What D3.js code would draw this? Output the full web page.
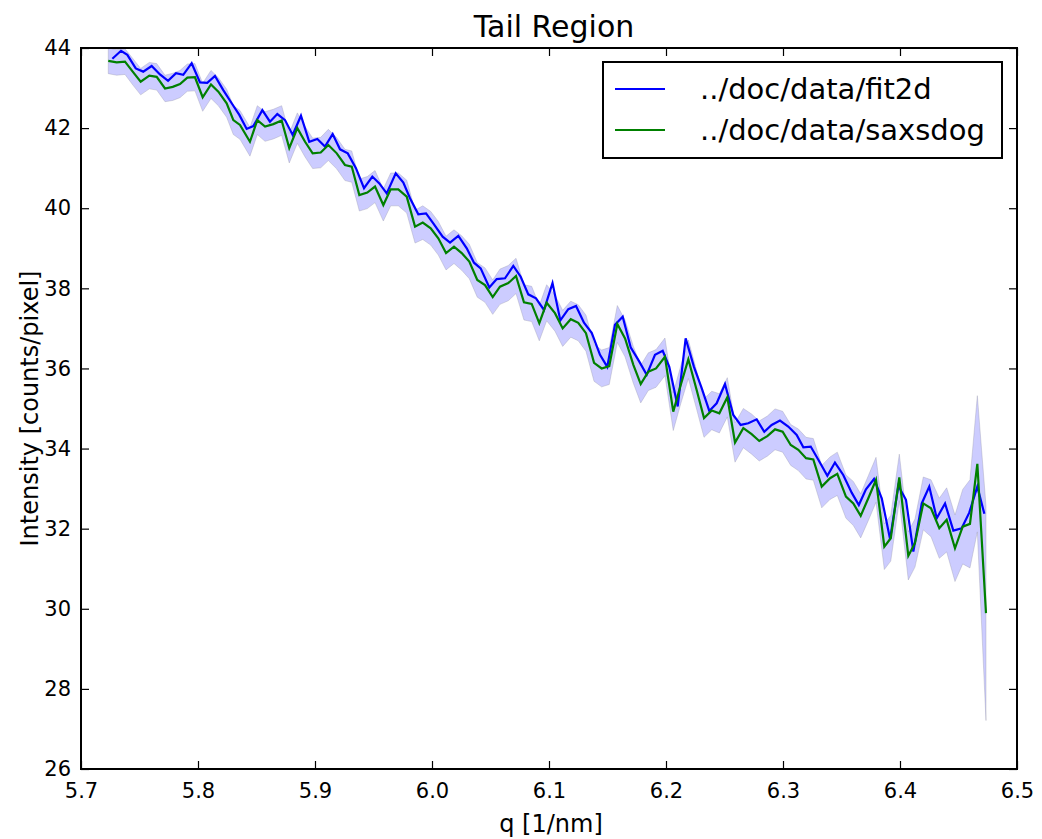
<!DOCTYPE html>
<html><head><meta charset="utf-8">
<script src="https://cdn.jsdelivr.net/npm/d3@7"></script>
<style>body{margin:0;background:#fff}svg{display:block}text{font-family:"DejaVu Sans",sans-serif}</style>
</head><body>
<svg id="c" width="1042" height="839"></svg>
<script>
const title = "Tail Region";
const xLabel = "q [1/nm]";
const yLabel = "Intensity [counts/pixel]";
const seriesNames = ["../doc/data/fit2d", "../doc/data/saxsdog"];
const xTicks = [5.7, 5.8, 5.9, 6.0, 6.1, 6.2, 6.3, 6.4, 6.5];
const yTicks = [26, 28, 30, 32, 34, 36, 38, 40, 42, 44];

const qFit2d = [5.7268,5.7342,5.7396,5.7468,5.7532,5.7604,5.7675,5.7744,5.7812,5.7874,5.7946,5.8017,5.8079,5.8145,5.8216,5.8288,5.8353,5.8416,5.8473,5.8550,5.8615,5.8678,5.8744,5.8809,5.8880,5.8951,5.9020,5.9085,5.9151,5.9214,5.9280,5.9350,5.9419,5.9490,5.9550,5.9613,5.9690,5.9755,5.9812,5.9883,5.9949,6.0011,6.0091,6.0154,6.0225,6.0297,6.0359,6.0416,6.0490,6.0553,6.0624,6.0695,6.0758,6.0823,6.0889,6.0957,6.1030,6.1097,6.1165,6.1231,6.1299,6.1365,6.1436,6.1498,6.1564,6.1630,6.1698,6.1772,6.1835,6.1906,6.1972,6.2028,6.2100,6.2168,6.2239,6.2305,6.2370,6.2433,6.2504,6.2575,6.2638,6.2703,6.2775,6.2840,6.2903,6.2974,6.3045,6.3117,6.3174,6.3237,6.3302,6.3379,6.3444,6.3515,6.3587,6.3648,6.3709,6.3778,6.3844,6.3915,6.3986,6.4051,6.4114,6.4186,6.4250,6.4314,6.4385,6.4456,6.4527,6.4592,6.4661,6.4721];
const iFit2d = [43.73,43.93,43.83,43.49,43.41,43.55,43.34,43.18,43.37,43.33,43.62,43.14,43.13,43.30,42.95,42.62,42.33,41.98,42.05,42.45,42.16,42.35,42.20,41.83,42.31,41.66,41.73,41.54,41.85,41.47,41.37,41.00,40.50,40.79,40.62,40.37,40.87,40.64,40.25,39.85,39.87,39.62,39.29,39.14,39.31,39.00,38.64,38.50,38.02,38.23,38.25,38.56,38.29,37.85,37.75,37.46,38.13,37.20,37.48,37.56,37.14,36.89,36.34,36.04,37.09,37.29,36.53,36.17,35.84,36.34,36.44,36.04,35.05,36.75,36.04,35.51,34.94,35.13,35.61,34.84,34.59,34.63,34.73,34.42,34.59,34.70,34.55,34.34,34.03,34.05,33.72,33.32,33.65,33.34,32.90,32.59,32.98,33.24,32.76,31.74,33.07,32.72,31.43,32.63,33.05,32.26,32.63,31.95,32.01,32.40,33.05,32.37];

const qSaxsdog = [5.7233,5.7305,5.7376,5.7442,5.7510,5.7584,5.7647,5.7718,5.7784,5.7846,5.7909,5.7974,5.8040,5.8111,5.8174,5.8245,5.8302,5.8359,5.8444,5.8507,5.8573,5.8644,5.8715,5.8780,5.8849,5.8915,5.8980,5.9049,5.9114,5.9186,5.9256,5.9314,5.9379,5.9447,5.9513,5.9584,5.9647,5.9712,5.9784,5.9855,5.9921,5.9989,6.0054,6.0120,6.0188,6.0254,6.0319,6.0387,6.0453,6.0519,6.0581,6.0652,6.0718,6.0786,6.0852,6.0917,6.0980,6.1051,6.1117,6.1186,6.1250,6.1316,6.1385,6.1450,6.1515,6.1584,6.1650,6.1721,6.1784,6.1849,6.1915,6.1991,6.2062,6.2126,6.2191,6.2262,6.2325,6.2391,6.2456,6.2524,6.2590,6.2661,6.2732,6.2797,6.2866,6.2932,6.2997,6.3066,6.3131,6.3197,6.3259,6.3331,6.3402,6.3464,6.3538,6.3601,6.3664,6.3729,6.3795,6.3866,6.3921,6.3994,6.4071,6.4128,6.4199,6.4265,6.4336,6.4399,6.4470,6.4536,6.4598,6.4661,6.4735];
const iSaxsdog = [43.68,43.64,43.66,43.41,43.16,43.31,43.28,42.99,43.03,43.10,43.26,43.27,42.77,43.09,42.91,42.62,42.20,42.08,41.66,42.20,42.04,42.10,42.19,41.50,42.00,41.66,41.37,41.39,41.58,41.37,41.08,41.04,40.33,40.39,40.54,40.08,40.47,40.47,40.29,39.54,39.64,39.50,39.25,38.88,39.04,38.88,38.67,38.21,38.08,37.78,38.04,38.13,38.31,37.65,37.61,37.13,37.64,37.38,37.00,37.23,37.14,36.88,36.14,36.00,36.06,37.11,36.75,36.09,35.61,35.92,36.00,36.29,34.92,35.59,36.23,35.46,34.76,34.95,34.88,35.28,34.15,34.51,34.36,34.19,34.31,34.48,34.42,34.09,33.97,33.76,33.73,33.05,33.26,33.37,32.80,32.63,32.32,32.76,33.22,31.55,31.76,33.28,31.32,31.64,32.63,32.51,32.01,32.22,31.51,32.05,32.12,33.62,29.89];
const errSaxsdog = [0.32,0.32,0.32,0.33,0.33,0.33,0.33,0.33,0.34,0.34,0.34,0.34,0.35,0.35,0.35,0.35,0.36,0.36,0.36,0.36,0.37,0.37,0.37,0.37,0.38,0.38,0.38,0.38,0.39,0.39,0.39,0.39,0.40,0.40,0.40,0.40,0.41,0.41,0.41,0.41,0.42,0.42,0.42,0.42,0.42,0.43,0.43,0.43,0.43,0.43,0.44,0.44,0.44,0.44,0.44,0.44,0.45,0.45,0.45,0.45,0.45,0.45,0.46,0.46,0.46,0.46,0.46,0.46,0.47,0.47,0.47,0.47,0.47,0.47,0.48,0.48,0.48,0.48,0.49,0.49,0.49,0.49,0.50,0.50,0.50,0.51,0.51,0.51,0.52,0.52,0.52,0.53,0.53,0.54,0.54,0.55,0.55,0.56,0.56,0.57,0.57,0.58,0.60,0.60,0.66,0.71,0.75,0.80,0.83,0.93,1.10,1.70,2.68];

const L = 81, R = 1017, T = 48, B = 769;
const svg = d3.select("#c");
const x = d3.scaleLinear().domain([5.7, 6.5]).range([L, R]);
const y = d3.scaleLinear().domain([26, 44]).range([B, T]);

svg.append("defs").append("clipPath").attr("id", "clip")
  .append("rect").attr("x", L).attr("y", T).attr("width", R - L).attr("height", B - T);

const plot = svg.append("g").attr("clip-path", "url(#clip)");

const band = qSaxsdog.map((q, i) => ({q, lo: iSaxsdog[i] - errSaxsdog[i], hi: iSaxsdog[i] + errSaxsdog[i]}));
plot.append("path").datum(band)
  .attr("d", d3.area().x(d => x(d.q)).y0(d => y(d.lo)).y1(d => y(d.hi)))
  .attr("fill", "rgba(0,0,255,0.2)").attr("stroke", "rgba(150,150,170,0.35)").attr("stroke-width", 1);

const line = d3.line().x(d => x(d[0])).y(d => y(d[1]));
plot.append("path").datum(qFit2d.map((q, i) => [q, iFit2d[i]]))
  .attr("d", line).attr("fill", "none").attr("stroke", "#0000ff").attr("stroke-width", 2.2).attr("stroke-linejoin", "miter");
plot.append("path").datum(qSaxsdog.map((q, i) => [q, iSaxsdog[i]]))
  .attr("d", line).attr("fill", "none").attr("stroke", "#008000").attr("stroke-width", 2.2).attr("stroke-linejoin", "miter");

// axes
const fmt = d3.format(".1f");
const tickFont = 21;
const gxB = svg.append("g").attr("transform", `translate(0,${B})`)
  .call(d3.axisBottom(x).tickValues(xTicks).tickFormat(fmt).tickSizeInner(-8).tickSizeOuter(0).tickPadding(14));
const gxT = svg.append("g").attr("transform", `translate(0,${T})`)
  .call(d3.axisTop(x).tickValues(xTicks).tickFormat("").tickSizeInner(-8).tickSizeOuter(0));
const gyL = svg.append("g").attr("transform", `translate(${L},0)`)
  .call(d3.axisLeft(y).tickValues(yTicks).tickFormat(d3.format("d")).tickSizeInner(-8).tickSizeOuter(0).tickPadding(10));
const gyR = svg.append("g").attr("transform", `translate(${R},0)`)
  .call(d3.axisRight(y).tickValues(yTicks).tickFormat("").tickSizeInner(-8).tickSizeOuter(0));
[gxB, gxT, gyL, gyR].forEach(g => {
  g.select(".domain").remove();
  g.selectAll(".tick line").attr("stroke", "#000").attr("stroke-width", 1.2);
  g.selectAll("text").attr("font-family", "DejaVu Sans").attr("font-size", tickFont).attr("fill", "#000");
});
gxB.selectAll("text").attr("dy", "0.71em");

svg.append("rect").attr("x", L).attr("y", T).attr("width", R - L).attr("height", B - T)
  .attr("fill", "none").attr("stroke", "#000").attr("stroke-width", 2);

// labels
svg.append("text").attr("x", (L + R) / 2 + 5).attr("y", 37).attr("text-anchor", "middle")
  .attr("font-size", 30).text(title);
svg.append("text").attr("x", (L + R) / 2 + 2).attr("y", 832).attr("text-anchor", "middle")
  .attr("font-size", 24).text(xLabel);
svg.append("text").attr("transform", `translate(38,${(T + B) / 2}) rotate(-90)`).attr("text-anchor", "middle")
  .attr("font-size", 24).text(yLabel);

// legend
const lg = svg.append("g");
lg.append("rect").attr("x", 603).attr("y", 62).attr("width", 399).attr("height", 96)
  .attr("fill", "#fff").attr("stroke", "#000").attr("stroke-width", 2);
const colors = ["#0000ff", "#008000"];
seriesNames.forEach((n, i) => {
  const yy = 89 + i * 41;
  lg.append("line").attr("x1", 615).attr("x2", 665).attr("y1", yy).attr("y2", yy)
    .attr("stroke", colors[i]).attr("stroke-width", 2.2);
  lg.append("text").attr("x", 700).attr("y", yy + 10).attr("font-size", 29).text(n);
});
</script>
</body></html>
